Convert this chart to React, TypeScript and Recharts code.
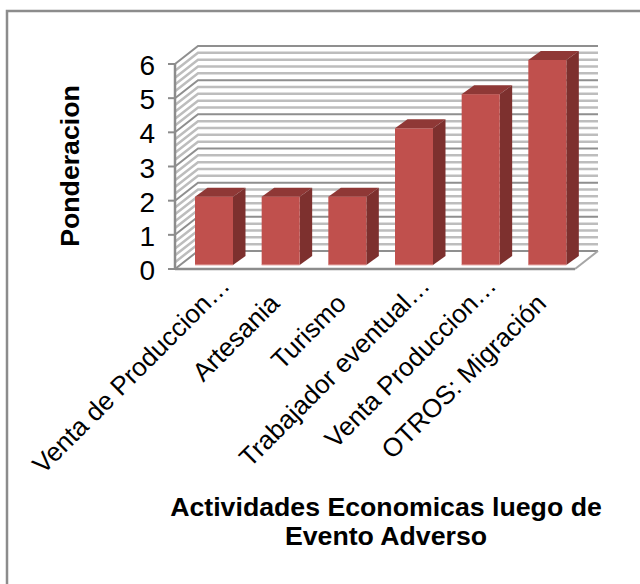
import { BarChart, Bar, XAxis, YAxis, CartesianGrid } from "recharts";

const categories = [
  "Venta de Produccion…",
  "Artesania",
  "Turismo",
  "Trabajador eventual…",
  "Venta Produccion…",
  "OTROS: Migración",
];
const ponderacion = [2, 2, 2, 4, 5, 6];
const yTicks = [0, 1, 2, 3, 4, 5, 6];
const gridValues = [
  0, 0.2, 0.4, 0.6, 0.8, 1, 1.2, 1.4, 1.6, 1.8, 2, 2.2, 2.4, 2.6, 2.8, 3, 3.2,
  3.4, 3.6, 3.8, 4, 4.2, 4.4, 4.6, 4.8, 5, 5.2, 5.4, 5.6, 5.8, 6,
];

const data = categories.map((name, i) => ({ name, value: ponderacion[i] }));

const FONT = "'Liberation Sans', Arial, sans-serif";
const AXIS = "#8c8c8c";
const TITLE_SIZE = 26.7;

// depth of the back wall relative to the front plane
const WALL_DX = 23;
const WALL_DY = 18;

const GridLine = (props: any) => {
  const { x1, x2, y1, index } = props;
  const major = index % 5 === 0;
  const color = major ? "#8f8f8f" : "#bdbdbd";
  const w = major ? 2 : 2.5;
  const points = `${x1},${y1} ${x1 + WALL_DX},${y1 - WALL_DY} ${x2 + WALL_DX},${y1 - WALL_DY}`;
  return <polyline key={`grid-${index}`} points={points} fill="none" stroke={color} strokeWidth={w} />;
};

// extruded column: front face, top and right side
const Column3D = ({ x, y, width, height }: any) => {
  const dx = 12.5;
  const dy = 9;
  const left = x + 6;
  const top = y - 4;
  const right = left + width;
  const bottom = top + height;
  return (
    <g>
      <polygon
        points={`${left},${top} ${left + dx},${top - dy} ${right + dx},${top - dy} ${right},${top}`}
        fill="#8f3836"
      />
      <polygon
        points={`${right},${top} ${right + dx},${top - dy} ${right + dx},${bottom - dy} ${right},${bottom}`}
        fill="#7d302e"
      />
      <rect x={left} y={top} width={width} height={height} fill="#c0504d" />
      <line x1={left} y1={bottom} x2={right} y2={bottom} stroke="#e8b0ae" strokeWidth={1} />
    </g>
  );
};

// truncated labels run a little further up the diagonal than whole ones
const CategoryTick = ({ x, y, payload }: any) => {
  const cut = String(payload.value).endsWith("…");
  const tx = x + 6 + (cut ? 17 : 0);
  const ty = y + 28 - (cut ? 18 : 0);
  return (
    <text
      x={tx}
      y={ty}
      textAnchor="end"
      transform={`rotate(-45 ${tx} ${ty})`}
      fontFamily={FONT}
      fontSize={26}
      fill="#000"
    >
      {payload.value}
    </text>
  );
};

const ValueTick = ({ x, y, payload }: any) => (
  <text x={x + 1} y={y + 11} textAnchor="end" fontFamily={FONT} fontSize={28} fill="#000">
    {payload.value}
  </text>
);

const App = () => (
  <div
    style={{
      position: "absolute",
      left: 0,
      top: 0,
      width: 640,
      height: 584,
      background: "#fff",
      overflow: "hidden",
    }}
  >
    <BarChart
      width={640}
      height={584}
      data={data}
      margin={{ top: 64, right: 65, bottom: 115, left: 0 }}
      barSize={38}
    >
      {/* chart frame */}
      <rect x={7} y={11} width={640} height={600} fill="none" stroke={AXIS} strokeWidth={2.5} />
      <CartesianGrid
        vertical={false}
        horizontalValues={gridValues}
        horizontal={GridLine}
      />
      <XAxis
        dataKey="name"
        height={200}
        interval={0}
        tickLine={false}
        axisLine={{ stroke: AXIS, strokeWidth: 2.5 }}
        tick={<CategoryTick />}
      />
      <YAxis
        width={175}
        domain={[0, 6]}
        ticks={yTicks}
        interval={0}
        tickSize={7}
        tickMargin={14}
        axisLine={{ stroke: AXIS, strokeWidth: 2.5 }}
        tickLine={{ stroke: AXIS, strokeWidth: 2 }}
        tick={<ValueTick />}
      />
      <Bar dataKey="value" shape={<Column3D />} isAnimationActive={false} />
      {/* floor edge toward the back wall */}
      <line x1={575} y1={269} x2={598} y2={251} stroke="#a6a6a6" strokeWidth={2} />
      <text
        transform="translate(79 166) rotate(-90)"
        textAnchor="middle"
        fontFamily={FONT}
        fontSize={TITLE_SIZE}
        fontWeight="bold"
      >
        Ponderacion
      </text>
      <text x={386} y={516} textAnchor="middle" fontFamily={FONT} fontSize={TITLE_SIZE} fontWeight="bold">
        Actividades Economicas luego de
      </text>
      <text x={386} y={545} textAnchor="middle" fontFamily={FONT} fontSize={TITLE_SIZE} fontWeight="bold">
        Evento Adverso
      </text>
    </BarChart>
  </div>
);

export default App;
